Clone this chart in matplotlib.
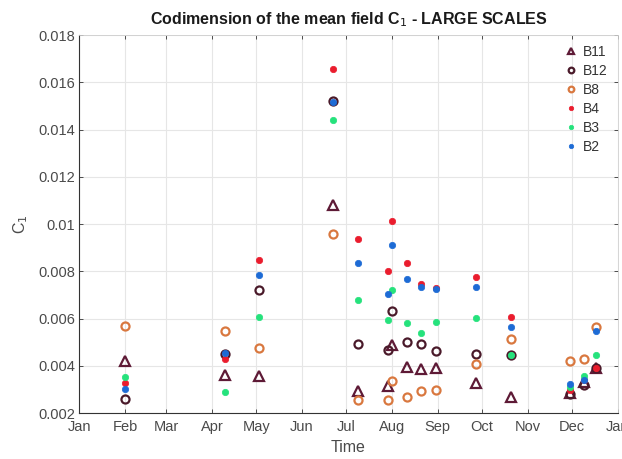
import datetime as dt

import matplotlib
matplotlib.use('Agg')
import matplotlib.pyplot as plt
import matplotlib.dates as mdates


# acquisition dates (one image per date, all bands)
dates = ['2018-02-01', '2018-04-10', '2018-05-03', '2018-06-22', '2018-07-09',
         '2018-07-29', '2018-08-01', '2018-08-11', '2018-08-21', '2018-08-31',
         '2018-09-27', '2018-10-21', '2018-11-30', '2018-12-09', '2018-12-17']

# C1 per band
c1_B11 = [0.00420, 0.00360, 0.00357, 0.01079, 0.00292, 0.00316, 0.00487, 0.00396,
          0.00386, 0.00390, 0.00327, 0.00269, 0.00285, 0.00330, 0.00389]
c1_B12 = [0.00258, 0.00448, 0.00720, 0.01520, 0.00493, 0.00467, 0.00633, 0.00499,
          0.00491, 0.00461, 0.00448, 0.00445, 0.00279, 0.00319, 0.00389]
c1_B8 = [0.00570, 0.00546, 0.00476, 0.00956, 0.00254, 0.00254, 0.00337, 0.00266,
         0.00292, 0.00296, 0.00406, 0.00513, 0.00420, 0.00430, 0.00565]
c1_B4 = [0.00327, 0.00427, 0.00848, 0.01655, 0.00937, 0.00802, 0.01013, 0.00836,
         0.00745, 0.00730, 0.00774, 0.00605, 0.00297, 0.00340, 0.00389]
c1_B3 = [0.00354, 0.00289, 0.00605, 0.01442, 0.00680, 0.00594, 0.00720, 0.00583,
         0.00539, 0.00587, 0.00601, 0.00446, 0.00310, 0.00357, 0.00446]
c1_B2 = [0.00300, 0.00453, 0.00784, 0.01516, 0.00836, 0.00702, 0.00912, 0.00766,
         0.00732, 0.00725, 0.00733, 0.00563, 0.00321, 0.00340, 0.00547]

month_labels = ['Jan', 'Feb', 'Mar', 'Apr', 'May', 'Jun', 'Jul', 'Aug', 'Sep',
                'Oct', 'Nov', 'Dec', 'Jan']
y_ticks = [0.002, 0.004, 0.006, 0.008, 0.01, 0.012, 0.014, 0.016, 0.018]


def main():
    plt.rcParams['font.family'] = ['Liberation Sans', 'DejaVu Sans']
    t = [dt.datetime.strptime(d, '%Y-%m-%d') for d in dates]

    fig = plt.figure(figsize=(6.22, 4.59), dpi=100)
    ax = fig.add_axes([0.1273, 0.1002, 0.8657, 0.8235])

    # open markers first, filled dots on top
    ax.plot(t, c1_B11, ls='none', marker='^', ms=6.5, mfc='none', mec='#5e1a36', mew=1.6, label='B11')
    ax.plot(t, c1_B12, ls='none', marker='o', ms=5.8, mfc='none', mec='#4a1a2a', mew=1.6, label='B12')
    ax.plot(t, c1_B8, ls='none', marker='o', ms=5.8, mfc='none', mec='#d9783f', mew=1.6, label='B8')
    ax.plot(t, c1_B4, ls='none', marker='o', ms=4.6, mfc='#ea1c2d', mec='#ea1c2d', mew=0.5, label='B4')
    ax.plot(t, c1_B3, ls='none', marker='o', ms=4.6, mfc='#25e27c', mec='#25e27c', mew=0.5, label='B3')
    ax.plot(t, c1_B2, ls='none', marker='o', ms=4.6, mfc='#1d6bd5', mec='#1d6bd5', mew=0.5, label='B2')

    ticks = [dt.datetime(2018, m, 1) for m in range(1, 13)] + [dt.datetime(2019, 1, 1)]
    ax.set_xlim(ticks[0], ticks[-1])
    ax.set_xticks(ticks)
    ax.set_xticklabels(month_labels)
    ax.set_ylim(0.002, 0.018)
    ax.set_yticks(y_ticks)
    ax.set_yticklabels([f'{v:g}' for v in y_ticks])

    ax.grid(True, color='#e6e6e6', lw=0.8)
    ax.set_axisbelow(True)
    ax.tick_params(direction='in', length=3, width=0.6, colors='#333333',
                   labelsize=10.5, labelcolor='#4a4a4a', top=True, right=True, pad=3)
    ax.tick_params(axis='x', pad=5)
    for side in ['left', 'bottom']:
        ax.spines[side].set_color('#333333')
        ax.spines[side].set_linewidth(0.8)
    for side in ['top', 'right']:
        ax.spines[side].set_color('#cfcfcf')
        ax.spines[side].set_linewidth(0.6)

    ax.set_xlabel('Time', fontsize=11.5, color='#4a4a4a', labelpad=4)
    ax.set_ylabel('C$_1$', fontsize=11.5, color='#4a4a4a', labelpad=6)
    ax.set_title('Codimension of the mean field C$_1$ - LARGE SCALES',
                 fontsize=11.5, fontweight='bold', color='#1a1a1a', pad=8)

    leg = ax.legend(loc='upper right', frameon=False, fontsize=10, markerscale=0.7,
                    handlelength=0.8, handletextpad=0.5, labelspacing=0.36,
                    borderaxespad=0.3)
    for txt in leg.get_texts():
        txt.set_color('#333333')

    fig.savefig('out.png', dpi=100)


if __name__ == "__main__":
    main()
